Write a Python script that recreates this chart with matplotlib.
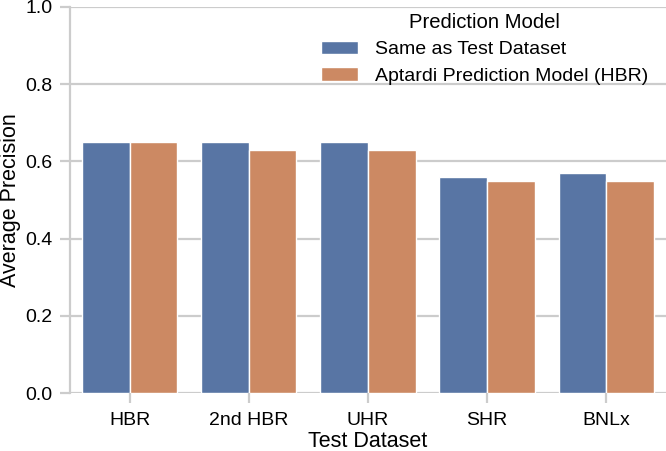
import numpy as np
import matplotlib
matplotlib.use("Agg")
import matplotlib.pyplot as plt

datasets = ["HBR", "2nd HBR", "UHR", "SHR", "BNLx"]
same_as_test = [0.65, 0.65, 0.65, 0.56, 0.57]
aptardi_hbr = [0.65, 0.63, 0.63, 0.55, 0.55]
series_names = ["Same as Test Dataset", "Aptardi Prediction Model (HBR)"]

plt.rcParams['font.family'] = ['Liberation Sans', 'DejaVu Sans']
grey = '#cccccc'

fig = plt.figure(figsize=(6.66, 4.51), dpi=100)
ax = fig.add_axes([0.105, 0.1286, 0.895, 0.8559])

x = np.arange(len(datasets))
w = 0.4
ax.bar(x - w / 2, same_as_test, w, color='#5875a4', edgecolor='white', linewidth=1, label=series_names[0], zorder=2)
ax.bar(x + w / 2, aptardi_hbr, w, color='#cc8963', edgecolor='white', linewidth=1, label=series_names[1], zorder=2)

ax.set_xlim(-0.5, 4.5)
ax.set_ylim(0, 1.0)
ax.set_xticks(x)
ax.set_xticklabels(datasets)
ax.set_yticks(np.arange(0, 1.01, 0.2))
ax.set_yticklabels(['%.1f' % v for v in np.arange(0, 1.01, 0.2)])
ax.yaxis.grid(True, color=grey, linewidth=1.6, zorder=0)
ax.set_axisbelow(True)
for s in ['top', 'right', 'bottom']:
    ax.spines[s].set_visible(False)
ax.spines['left'].set_color(grey)
ax.spines['left'].set_linewidth(1.6)
ax.tick_params(axis='both', colors=grey, width=1.6, length=7.5, pad=5, labelsize=14, labelcolor='black')
ax.tick_params(axis='x', pad=6)

ax.set_xlabel('Test Dataset', fontsize=15.5, labelpad=1.5)
ax.set_ylabel('Average Precision', fontsize=15.5, labelpad=3)

leg = ax.legend(title='Prediction Model', loc='upper right', frameon=False, fontsize=14,
                title_fontsize=14.6, bbox_to_anchor=(0.999, 1.03), handlelength=1.9,
                handletextpad=0.85, labelspacing=0.45)

fig.savefig('out.png', dpi=100)
